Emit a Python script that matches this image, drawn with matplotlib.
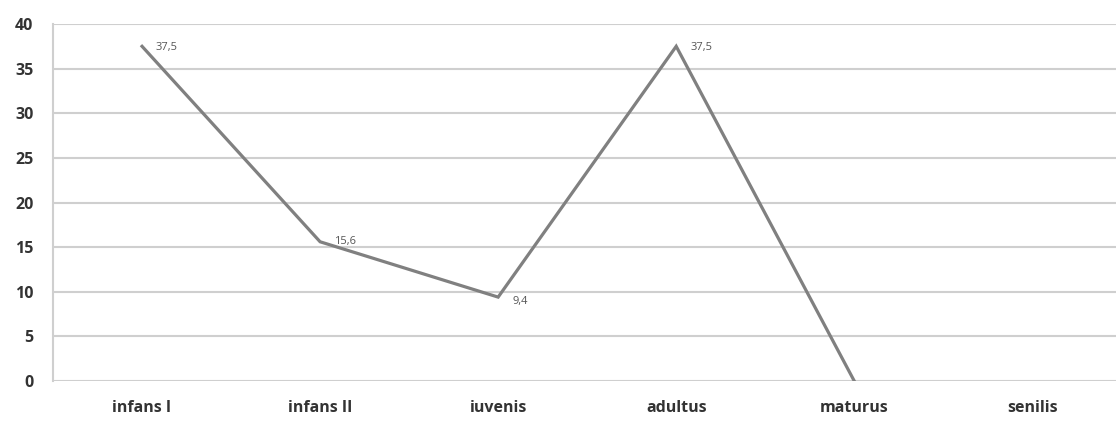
import matplotlib.pyplot as plt
import numpy as np

plt.rcParams['font.family'] = ['Open Sans', 'DejaVu Sans']

categories = ['infans I', 'infans II', 'iuvenis', 'adultus', 'maturus', 'senilis']
values = [37.5, 15.6, 9.4, 37.5, 0.0]          # senilis has no value
point_labels = ['37,5', '15,6', '9,4', '37,5', None]
label_dy = [-1, 0, -3, -1, 0]                  # vertical nudge of each label (pt)
yticks = np.arange(0, 41, 5)

fig = plt.figure(figsize=(11.16, 4.21), dpi=100)
ax = fig.add_axes([0.0475, 0.095, 0.9525, 0.848])

x = np.arange(len(values))
ax.plot(x, values, color='#808080', lw=2.3, solid_joinstyle='miter', zorder=3)

for xi, v, lab, dy in zip(x, values, point_labels, label_dy):
    if lab is None:
        continue
    ax.annotate(lab, (xi, v), xytext=(10, dy), textcoords='offset points',
                ha='left', va='center', fontsize=8, color='#555555')

ax.set_xlim(-0.5, 5.47)
ax.set_ylim(0, 40)
ax.set_yticks(yticks)
ax.set_xticks(np.arange(len(categories)))
ax.set_xticklabels(categories)
ax.grid(axis='y', color='#cfcfcf', lw=1.5)
ax.set_axisbelow(True)

for side in ['top', 'right', 'bottom']:
    ax.spines[side].set_visible(False)
ax.spines['left'].set_color('#cfcfcf')
ax.spines['left'].set_linewidth(1.5)

ax.tick_params(axis='both', length=0, labelsize=11.5, colors='#333333')
ax.tick_params(axis='y', pad=14)
ax.tick_params(axis='x', pad=14)
for t in ax.get_xticklabels() + ax.get_yticklabels():
    t.set_fontweight('bold')

fig.savefig('out.png', dpi=100)
